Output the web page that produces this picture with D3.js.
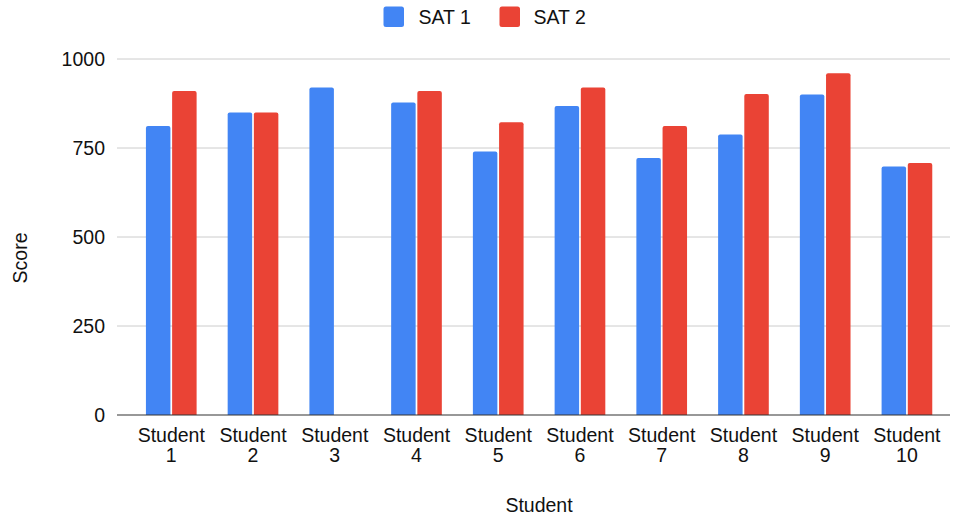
<!DOCTYPE html>
<html>
<head>
<meta charset="utf-8">
<script src="https://cdn.jsdelivr.net/npm/d3@7"></script>
<style>
  html, body { margin: 0; padding: 0; background: #fff; }
  svg { display: block; font-family: "Liberation Sans", Arial, Helvetica, sans-serif; }
</style>
</head>
<body>
<svg id="chart" width="958" height="520"></svg>
<script>
// SAT scores per student
const students = ["Student 1", "Student 2", "Student 3", "Student 4", "Student 5",
                  "Student 6", "Student 7", "Student 8", "Student 9", "Student 10"];
const sat1 = [812, 850, 920, 878, 740, 868, 722, 788, 900, 698];
const sat2 = [910, 850, null, 910, 822, 920, 812, 902, 960, 708];
const seriesNames = ["SAT 1", "SAT 2"];
const seriesColors = ["#4285f4", "#ea4335"];
const yTicks = [0, 250, 500, 750, 1000];

const svg = d3.select("#chart");
const fontSize = 19.5;
const textColor = "#111";

const plot = { left: 117, right: 950, top: 59, bottom: 415 };

const x0 = d3.scaleBand()
  .domain(students)
  .range([130.4, 947.8])
  .paddingInner(0.38)
  .paddingOuter(0.19);

const x1 = d3.scaleBand()
  .domain(seriesNames)
  .range([0, x0.bandwidth()])
  .paddingInner(0.065);

const y = d3.scaleLinear().domain([0, 1000]).range([plot.bottom, plot.top]);

// gridlines
svg.append("g")
  .selectAll("line")
  .data(yTicks.filter(t => t !== 0))
  .join("line")
  .attr("x1", plot.left).attr("x2", plot.right)
  .attr("y1", d => y(d)).attr("y2", d => y(d))
  .attr("stroke", "#cccccc").attr("stroke-width", 1);

// y tick labels
svg.append("g")
  .selectAll("text")
  .data(yTicks)
  .join("text")
  .attr("x", 105)
  .attr("y", d => y(d))
  .attr("dy", "0.34em")
  .attr("text-anchor", "end")
  .attr("font-size", fontSize)
  .attr("fill", textColor)
  .text(d => d);

// bars
const rows = students.map((s, i) => ({ student: s, values: [sat1[i], sat2[i]] }));
const groups = svg.append("g")
  .selectAll("g")
  .data(rows)
  .join("g")
  .attr("transform", d => `translate(${x0(d.student)},0)`);

groups.selectAll("path")
  .data(d => d.values.map((v, k) => ({ key: seriesNames[k], value: v, color: seriesColors[k] }))
    .filter(e => e.value != null))
  .join("path")
  .attr("fill", d => d.color)
  .attr("d", d => {
    const bx = x1(d.key), bw = x1.bandwidth();
    const top = y(d.value), base = y(0), r = 2;
    return `M${bx},${base} V${top + r} Q${bx},${top} ${bx + r},${top} H${bx + bw - r} Q${bx + bw},${top} ${bx + bw},${top + r} V${base} Z`;
  });

// baseline
svg.append("line")
  .attr("x1", plot.left).attr("x2", plot.right)
  .attr("y1", y(0)).attr("y2", y(0))
  .attr("stroke", "#333").attr("stroke-width", 1.2);

// x category labels (two lines)
const xl = svg.append("g")
  .selectAll("text")
  .data(students)
  .join("text")
  .attr("text-anchor", "middle")
  .attr("font-size", fontSize)
  .attr("fill", textColor)
  .attr("transform", d => `translate(${x0(d) + x0.bandwidth() / 2},0)`);
xl.append("tspan").attr("x", 0).attr("y", 442).text(d => d.split(" ")[0]);
xl.append("tspan").attr("x", 0).attr("y", 462).text(d => d.split(" ")[1]);

// axis titles
svg.append("text")
  .attr("x", 539).attr("y", 512)
  .attr("text-anchor", "middle")
  .attr("font-size", fontSize)
  .attr("fill", textColor)
  .text("Student");

svg.append("text")
  .attr("transform", "translate(26.5,258) rotate(-90)")
  .attr("text-anchor", "middle")
  .attr("font-size", fontSize)
  .attr("fill", textColor)
  .text("Score");

// legend
const legendItems = [
  { name: seriesNames[0], color: seriesColors[0], sx: 383.5, tx: 418.5 },
  { name: seriesNames[1], color: seriesColors[1], sx: 499.5, tx: 533.5 }
];
const lg = svg.append("g").selectAll("g").data(legendItems).join("g");
lg.append("rect")
  .attr("x", d => d.sx).attr("y", 6.5)
  .attr("width", 20.5).attr("height", 20.5)
  .attr("rx", 2.5)
  .attr("fill", d => d.color);
lg.append("text")
  .attr("x", d => d.tx).attr("y", 23.5)
  .attr("font-size", fontSize)
  .attr("fill", textColor)
  .text(d => d.name);
</script>
</body>
</html>
